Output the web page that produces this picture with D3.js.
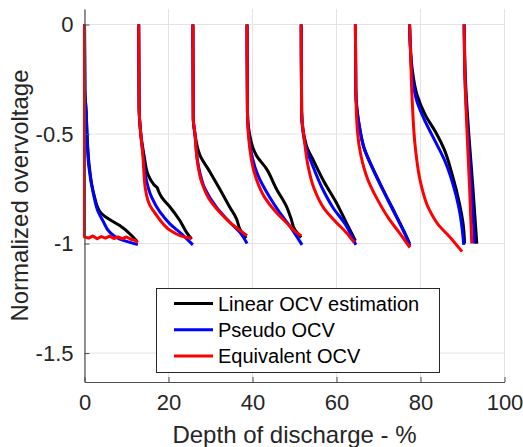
<!DOCTYPE html>
<html>
<head>
<meta charset="utf-8">
<script src="https://cdn.jsdelivr.net/npm/d3@7"></script>
<style>
    body { margin: 0; background: #fff; }
    svg { font-family: "Liberation Sans", Arial, sans-serif; }
</style>
</head>
<body>
<script>
// x ticks and y ticks as printed on the axes
var xTicks = [0, 20, 40, 60, 80, 100];
var yTicks = [0, -0.5, -1, -1.5];

var seriesNames = ["Linear OCV estimation", "Pseudo OCV", "Equivalent OCV"];
var seriesColors = ["#000000", "#0000ff", "#ff0000"];

// each series: one list of [depth of discharge %, normalized overvoltage] per pulse
var linearOcv = [
    [[0,0],[0.1,-0.3],[0.4,-0.4],[0.6,-0.5],[1.1,-0.64],[2.3,-0.78],[3.7,-0.855],[5.6,-0.886],[8.4,-0.918],[11.2,-0.963],[12.5,-0.99]],
    [[12.9,0],[13.0,-0.38],[13.4,-0.5],[14.2,-0.6],[15.2,-0.689],[16.5,-0.73],[17.3,-0.745],[17.6,-0.76],[18.4,-0.789],[20.4,-0.834],[22.7,-0.895],[24.3,-0.949],[25.5,-0.98]],
    [[25.8,0],[25.9,-0.43],[26.3,-0.5],[27.5,-0.597],[29.9,-0.674],[32.2,-0.751],[34.6,-0.834],[36.2,-0.887],[37.0,-0.934],[38.5,-0.975]],
    [[38.7,0],[38.8,-0.4],[39.7,-0.537],[40.9,-0.597],[43.3,-0.658],[45.7,-0.751],[48.0,-0.827],[49.2,-0.887],[50.0,-0.934],[51.6,-0.972]],
    [[51.6,0],[51.7,-0.4],[52.8,-0.551],[54.7,-0.628],[57.1,-0.72],[59.9,-0.811],[62.3,-0.903],[64.5,-0.987]],
    [[64.5,0],[64.6,-0.3],[65.4,-0.46],[66.6,-0.565],[68.6,-0.655],[71.3,-0.762],[74.1,-0.868],[76.1,-0.945],[77.4,-1.0]],
    [[77.4,0],[77.6,-0.1],[78.0,-0.2],[79.2,-0.323],[81.2,-0.415],[83.6,-0.491],[85.6,-0.568],[87.6,-0.689],[89.2,-0.811],[90.2,-0.918],[90.5,-1.0]],
    [[90.4,0],[90.7,-0.25],[91.5,-0.5],[92.5,-0.75],[93.4,-1.0]]
];

var pseudoOcv = [
    [[0,0],[0.1,-0.3],[0.4,-0.4],[0.6,-0.5],[1.0,-0.643],[2.2,-0.78],[3.3,-0.857],[4.5,-0.9],[6.0,-0.948],[8.4,-0.98],[12.7,-1.005]],
    [[12.9,0],[13.0,-0.38],[13.4,-0.5],[14.0,-0.6],[14.5,-0.689],[16.0,-0.789],[18.0,-0.857],[20.4,-0.911],[22.7,-0.949],[25.8,-1.006]],
    [[25.8,0],[25.9,-0.43],[26.3,-0.5],[27.1,-0.643],[28.7,-0.751],[31.4,-0.834],[34.6,-0.903],[37.0,-0.949],[38.7,-1.0]],
    [[38.7,0],[38.8,-0.4],[39.7,-0.583],[41.3,-0.689],[44.1,-0.789],[46.4,-0.857],[48.8,-0.918],[51.8,-1.006]],
    [[51.6,0],[51.7,-0.4],[52.8,-0.566],[54.3,-0.643],[56.7,-0.751],[59.1,-0.834],[62.3,-0.918],[64.6,-1.006]],
    [[64.5,0],[64.6,-0.3],[65.4,-0.46],[66.6,-0.567],[68.6,-0.658],[71.3,-0.765],[74.1,-0.872],[76.1,-0.949],[77.5,-1.01]],
    [[77.4,0],[77.6,-0.12],[78.0,-0.232],[79.2,-0.354],[81.2,-0.446],[83.6,-0.537],[85.6,-0.614],[87.6,-0.72],[89.2,-0.842],[89.9,-0.93],[90.3,-1.006]],
    [[90.4,0],[90.6,-0.25],[91.3,-0.5],[92.2,-0.75],[92.9,-1.0]]
];

var equivalentOcv = [
    [[0,0],[0,-0.97],[1,-0.975],[2,-0.965],[3,-0.978],[4,-0.968],[5,-0.975],[6,-0.966],[7,-0.977],[8,-0.97],[9,-0.978],[10,-0.97],[11,-0.98],[12,-0.985],[12.7,-0.995]],
    [[12.9,0],[13.0,-0.38],[13.4,-0.5],[13.9,-0.6],[14.2,-0.69],[14.5,-0.751],[15.6,-0.827],[17.2,-0.872],[18.4,-0.903],[21.2,-0.949],[24.3,-0.972],[25.5,-0.975]],
    [[25.8,0],[25.9,-0.43],[26.3,-0.5],[26.8,-0.613],[27.9,-0.72],[29.9,-0.803],[32.2,-0.857],[34.6,-0.903],[37.0,-0.94],[38.7,-0.964]],
    [[38.7,0],[38.8,-0.4],[39.7,-0.613],[40.9,-0.705],[42.9,-0.789],[45.3,-0.85],[48.0,-0.903],[50.4,-0.949],[51.6,-0.964]],
    [[51.6,0],[51.7,-0.4],[52.4,-0.537],[53.2,-0.643],[54.7,-0.751],[57.1,-0.842],[59.9,-0.903],[62.3,-0.949],[64.2,-0.995]],
    [[64.5,0],[64.6,-0.3],[65.0,-0.49],[65.8,-0.597],[67.4,-0.705],[69.7,-0.797],[72.5,-0.887],[74.9,-0.949],[77.5,-1.018]],
    [[77.4,0],[77.6,-0.109],[78.0,-0.337],[78.8,-0.568],[80.0,-0.72],[82.0,-0.842],[84.4,-0.918],[86.7,-0.964],[89.9,-1.037]],
    [[90.4,0],[90.6,-0.25],[91.1,-0.5],[91.7,-0.75],[92.2,-1.0]]
];

var allSeries = [linearOcv, pseudoOcv, equivalentOcv];

var width = 523, height = 447;
var plotLeft = 84.5, plotRight = 504.5, plotTop = 9, plotBottom = 382;
var axisColor = "#4d4d4d", textColor = "#262626";

var svg = d3.select("body").append("svg")
    .attr("width", width)
    .attr("height", height);

var x = d3.scaleLinear().domain([0, 100]).range([plotLeft, plotRight]);
var y = d3.scaleLinear().domain([-1.632, 0.0708]).range([plotBottom, plotTop]);

// grid
svg.append("g").selectAll("line").data(xTicks).enter().append("line")
    .attr("x1", function(d){ return x(d); })
    .attr("x2", function(d){ return x(d); })
    .attr("y1", plotTop)
    .attr("y2", plotBottom)
    .attr("stroke", "#e3e3e3")
    .attr("stroke-width", 1);

svg.append("g").selectAll("line").data(yTicks).enter().append("line")
    .attr("x1", plotLeft)
    .attr("x2", plotRight)
    .attr("y1", function(d){ return y(d); })
    .attr("y2", function(d){ return y(d); })
    .attr("stroke", "#e3e3e3")
    .attr("stroke-width", 1);

// series: smooth monotone decays, plain polyline for the noisy flat pulse
var smoothLine = d3.line()
    .x(function(d){ return x(d[0]); })
    .y(function(d){ return y(d[1]); })
    .curve(d3.curveMonotoneY);
var plainLine = d3.line()
    .x(function(d){ return x(d[0]); })
    .y(function(d){ return y(d[1]); });

function isDecreasing(seg){
    for(var k = 1; k < seg.length; k++){
        if(seg[k][1] >= seg[k-1][1]) return false;
    }
    return true;
}

allSeries.forEach(function(segs, i){
    svg.append("g").selectAll("path").data(segs).enter().append("path")
        .attr("d", function(seg){ return isDecreasing(seg) ? smoothLine(seg) : plainLine(seg); })
        .attr("fill", "none")
        .attr("stroke", seriesColors[i])
        .attr("stroke-width", 3)
        .attr("stroke-linejoin", "round")
        .attr("stroke-linecap", "butt");
});

// axes (MATLAB style: ticks pointing inward)
var xAxis = d3.axisBottom(x).tickValues(xTicks).tickSizeInner(-5).tickSizeOuter(0).tickPadding(12);
var yAxis = d3.axisLeft(y).tickValues(yTicks).tickSizeInner(-5).tickSizeOuter(0).tickPadding(11)
    .tickFormat(function(d){ return d === 0 ? "0" : String(d); });

var gx = svg.append("g")
    .attr("transform", "translate(0," + plotBottom + ")")
    .call(xAxis);
var gy = svg.append("g")
    .attr("transform", "translate(" + plotLeft + ",0)")
    .call(yAxis);

[gx, gy].forEach(function(g){
    g.select(".domain").attr("stroke", axisColor).attr("stroke-width", 1.2);
    g.selectAll(".tick line").attr("stroke", axisColor);
    g.selectAll(".tick text")
        .attr("fill", textColor)
        .style("font-size", "22px")
        .style("font-family", "Liberation Sans, Arial, sans-serif");
});

// axis labels
svg.append("text")
    .attr("x", (plotLeft + plotRight) / 2)
    .attr("y", 443)
    .attr("text-anchor", "middle")
    .attr("fill", textColor)
    .style("font-size", "24px")
    .text("Depth of discharge - %");

svg.append("text")
    .attr("transform", "translate(28," + ((plotTop + plotBottom) / 2) + ") rotate(-90)")
    .attr("text-anchor", "middle")
    .attr("fill", textColor)
    .style("font-size", "24px")
    .text("Normalized overvoltage");

// legend
var legend = svg.append("g");
legend.append("rect")
    .attr("x", 156.5)
    .attr("y", 288.5)
    .attr("width", 283)
    .attr("height", 84)
    .attr("fill", "#fff")
    .attr("stroke", textColor)
    .attr("stroke-width", 1);

var rows = legend.selectAll("g.row").data(seriesNames).enter().append("g")
    .attr("class", "row")
    .attr("transform", function(d, i){ return "translate(0," + (303.5 + i * 26.3) + ")"; });

rows.append("line")
    .attr("x1", 174)
    .attr("x2", 213)
    .attr("y1", 0)
    .attr("y2", 0)
    .attr("stroke", function(d, i){ return seriesColors[i]; })
    .attr("stroke-width", 3);

rows.append("text")
    .attr("x", 218)
    .attr("y", 0)
    .attr("dy", "0.35em")
    .attr("fill", "#000")
    .style("font-size", "20px")
    .text(function(d){ return d; });
</script>
</body>
</html>
